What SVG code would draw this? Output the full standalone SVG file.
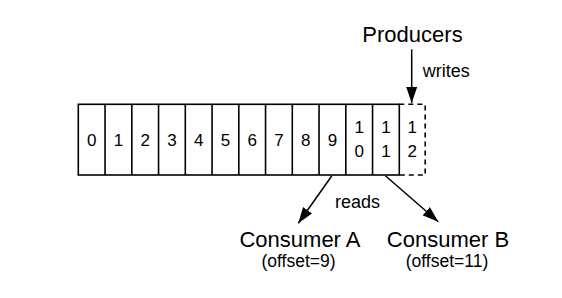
<svg xmlns="http://www.w3.org/2000/svg" width="562" height="298" viewBox="0 0 562 298">
<defs>
<style>
text{font-family:"Liberation Sans",Arial,Helvetica,sans-serif;fill:#000}
.cell{fill:none;stroke:#000;stroke-width:1.6}
.dash{fill:none;stroke:#000;stroke-width:1.6;stroke-dasharray:5 4}
.num{font-size:17px;text-anchor:middle}
.lbl{font-size:18px}
.big{font-size:22px;text-anchor:middle}
.off{font-size:17.5px;text-anchor:middle}
.conn{stroke:#000;stroke-width:1.5;fill:none}
</style>
<marker id="ah2" markerWidth="16" markerHeight="11" viewBox="0 0 16 11" refX="16" refY="5.5" orient="auto" markerUnits="userSpaceOnUse">
<path d="M0,0 L16,5.5 L0,11 z" fill="#000"/>
</marker>
</defs>
<rect width="562" height="298" fill="#fff"/>
<g id="log">
<rect class="cell" x="78.3" y="104.3" width="321" height="70.7"/>
<path class="cell" d="M105.05,104.3V175 M131.8,104.3V175 M158.55,104.3V175 M185.3,104.3V175 M212.05,104.3V175 M238.8,104.3V175 M265.55,104.3V175 M292.3,104.3V175 M319.05,104.3V175 M345.8,104.3V175 M372.55,104.3V175"/>
<text class="num" x="91.7" y="146">0</text>
<text class="num" x="118.4" y="146">1</text>
<text class="num" x="145.2" y="146">2</text>
<text class="num" x="171.9" y="146">3</text>
<text class="num" x="198.7" y="146">4</text>
<text class="num" x="225.4" y="146">5</text>
<text class="num" x="252.2" y="146">6</text>
<text class="num" x="278.9" y="146">7</text>
<text class="num" x="305.7" y="146">8</text>
<text class="num" x="332.4" y="146">9</text>
<text class="num" x="359.2" y="133">1</text>
<text class="num" x="359.2" y="157">0</text>
<text class="num" x="385.9" y="133">1</text>
<text class="num" x="385.9" y="157">1</text>
</g>
<g id="new-slot">
<path class="dash" d="M399.3,104.3H425.2V175H399.3"/>
<text class="num" x="412.3" y="133">1</text>
<text class="num" x="412.3" y="157">2</text>
</g>
<g id="producers">
<text class="big" x="412.5" y="41.7">Producers</text>
</g>
<g id="consumer-a">
<text class="big" x="300" y="247">Consumer A</text>
<text class="off" x="298.5" y="266.5">(offset=9)</text>
</g>
<g id="consumer-b">
<text class="big" x="448" y="247">Consumer B</text>
<text class="off" x="447" y="266.5">(offset=11)</text>
</g>
<g id="connectors">
<line class="conn" x1="411.7" y1="49.3" x2="411.7" y2="103" marker-end="url(#ah2)"/>
<text class="lbl" x="422.7" y="77">writes</text>
<line class="conn" x1="331.7" y1="176" x2="298.3" y2="223.3" marker-end="url(#ah2)"/>
<line class="conn" x1="385.7" y1="176" x2="438.3" y2="221.7" marker-end="url(#ah2)"/>
<text class="lbl" x="335" y="208">reads</text>
</g>
</svg>
